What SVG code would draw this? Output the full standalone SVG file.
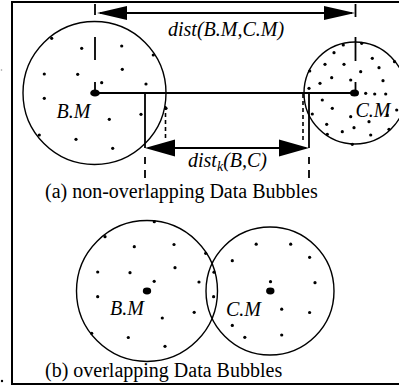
<svg xmlns="http://www.w3.org/2000/svg" width="399" height="389" viewBox="0 0 399 389">
<style>
.frame{fill:none;stroke:#000;stroke-width:2}
.circ{fill:none;stroke:#000;stroke-width:1.4}
.ln{fill:none;stroke:#000;stroke-width:1.8}
.dash{fill:none;stroke:#000;stroke-width:1.8}
.sdash{fill:none;stroke:#000;stroke-width:1.6;stroke-dasharray:4,3}
.ah{fill:#000;stroke:none}
.t{font-family:"Liberation Serif","Times New Roman",serif;font-size:20px;fill:#000}
.i{font-style:italic}
.d{fill:#000}
</style>
<defs>
<circle id="p" r="1.6" class="d"/>
</defs>
<rect class="frame" x="12" y="2" width="400" height="382"/>
<circle cx="1.5" cy="70" r="0.8" fill="#999"/>
<circle cx="2" cy="381" r="1.2" fill="#000"/>

<g id="bubbleB">
<circle class="circ" cx="94.5" cy="93" r="71.5"/>
<ellipse cx="95" cy="93" rx="4.8" ry="3.6" class="d"/>
<g>
<use href="#p" x="51.7" y="38.3"/><use href="#p" x="81.7" y="48.3"/><use href="#p" x="121.7" y="46"/>
<use href="#p" x="153.3" y="55"/><use href="#p" x="44.3" y="74"/><use href="#p" x="77.7" y="74.3"/>
<use href="#p" x="122.3" y="69.3"/><use href="#p" x="101.7" y="82.7"/><use href="#p" x="146" y="84"/>
<use href="#p" x="44.3" y="98.3"/><use href="#p" x="166" y="108.3"/><use href="#p" x="141" y="114.3"/>
<use href="#p" x="109.3" y="119.3"/><use href="#p" x="39.3" y="135"/><use href="#p" x="76" y="139.3"/>
<use href="#p" x="112.7" y="148.3"/>
</g>
<text class="t i" x="56.5" y="118">B.M</text>
</g>

<g id="bubbleC">
<circle class="circ" cx="355" cy="93" r="51"/>
<ellipse cx="354.5" cy="93" rx="4.5" ry="3.5" class="d"/>
<g>
<use href="#p" x="343.3" y="45"/><use href="#p" x="361.7" y="43.3"/><use href="#p" x="334" y="52.7"/>
<use href="#p" x="372.3" y="58.3"/><use href="#p" x="325" y="64.3"/><use href="#p" x="344" y="64.3"/>
<use href="#p" x="379" y="67.7"/><use href="#p" x="309.7" y="71"/><use href="#p" x="360.7" y="71.7"/>
<use href="#p" x="331.7" y="77.7"/><use href="#p" x="383" y="80.7"/><use href="#p" x="350.7" y="80"/>
<use href="#p" x="320" y="83.3"/><use href="#p" x="309" y="88.3"/><use href="#p" x="365.7" y="93.3"/>
<use href="#p" x="374.7" y="94"/><use href="#p" x="385.7" y="94"/><use href="#p" x="322.3" y="100"/>
<use href="#p" x="332.3" y="108.3"/><use href="#p" x="312.3" y="114"/><use href="#p" x="350.7" y="116.7"/>
<use href="#p" x="387.3" y="115"/><use href="#p" x="369" y="121.7"/><use href="#p" x="326.7" y="124.3"/>
<use href="#p" x="354" y="127.7"/><use href="#p" x="342.3" y="131.7"/><use href="#p" x="327.3" y="134.3"/>
<use href="#p" x="370.7" y="135"/><use href="#p" x="389" y="129.3"/><use href="#p" x="352.3" y="144.3"/>
<use href="#p" x="394.5" y="61.7"/><use href="#p" x="396.7" y="110"/>
</g>
<text class="t i" x="355.5" y="117">C.M</text>
</g>

<g id="bubbleB2">
<circle class="circ" cx="147" cy="291" r="70.5"/>
<ellipse cx="147" cy="291" rx="4.2" ry="3.4" class="d"/>
<g>
<use href="#p" x="154.3" y="221.7"/><use href="#p" x="105" y="236.7"/><use href="#p" x="134.3" y="246.7"/>
<use href="#p" x="174" y="244.5"/><use href="#p" x="97.7" y="272"/><use href="#p" x="130" y="272.7"/>
<use href="#p" x="175" y="267.7"/><use href="#p" x="199" y="282"/><use href="#p" x="154.2" y="281.3"/>
<use href="#p" x="97.7" y="296.7"/><use href="#p" x="162.3" y="318"/><use href="#p" x="194.2" y="312.3"/>
<use href="#p" x="91.7" y="333.3"/><use href="#p" x="128.3" y="337.5"/><use href="#p" x="165" y="346.3"/>
<use href="#p" x="205.7" y="253.3"/><use href="#p" x="214" y="272.2"/><use href="#p" x="213.6" y="296.7"/>
</g>
<text class="t i" x="110" y="315">B.M</text>
</g>

<g id="bubbleC2">
<circle class="circ" cx="270" cy="291" r="64"/>
<ellipse cx="270.3" cy="291" rx="4.2" ry="3.4" class="d"/>
<g>
<use href="#p" x="256.2" y="244.2"/><use href="#p" x="290.7" y="244.2"/><use href="#p" x="232.3" y="260.7"/>
<use href="#p" x="309.6" y="257.3"/><use href="#p" x="270.5" y="281.7"/><use href="#p" x="315" y="282.7"/>
<use href="#p" x="281.7" y="309.2"/><use href="#p" x="309.6" y="312.5"/><use href="#p" x="232.3" y="325.4"/>
<use href="#p" x="244.8" y="337.3"/><use href="#p" x="281.7" y="335"/>
</g>
<text class="t i" x="226" y="316">C.M</text>
</g>

<g id="connectors">
<line class="ln" x1="95" y1="93" x2="354" y2="93"/>
<path class="dash" d="M95,4V15M95,37V60M95,82V92"/>
<path class="dash" d="M355.5,4V17M355.5,37V61M355.5,82V92"/>
<line class="ln" x1="100" y1="13" x2="352" y2="13"/>
<path class="ah" d="M97,13L127,6L127,20Z"/>
<path class="ah" d="M355,13L324,6L324,20Z"/>
<path class="dash" d="M145,93V148M145,157V164M145,170V178"/>
<path class="dash" d="M309,93V148M309,157V164M309,170V178"/>
<line class="sdash" x1="165.5" y1="106" x2="165.5" y2="139"/>
<line class="sdash" x1="303" y1="94" x2="303" y2="141"/>
<line class="ln" x1="148" y1="148" x2="306" y2="148"/>
<path class="ah" d="M145,148L175,139.5L175,156.5Z"/>
<path class="ah" d="M309,148L279,139.5L279,156.5Z"/>
</g>

<text class="t i" x="168" y="36">dist(B.M,C.M)</text>
<text class="t i" x="188" y="167">dist<tspan font-size="14" dy="4">k</tspan><tspan dy="-4">(B,C)</tspan></text>
<text class="t" x="45" y="198">(a) non-overlapping Data Bubbles</text>
<text class="t" x="45" y="377">(b) overlapping Data Bubbles</text>
</svg>
